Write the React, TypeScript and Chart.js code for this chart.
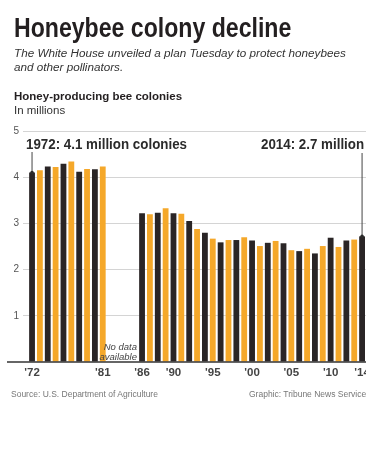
import React, { useEffect, useRef } from "react";
import { Chart, registerables } from "chart.js";

Chart.register(...registerables);

const years: number[] = [
  1972, 1973, 1974, 1975, 1976, 1977, 1978, 1979, 1980, 1981,
  1986, 1987, 1988, 1989, 1990, 1991, 1992, 1993, 1994, 1995, 1996, 1997, 1998, 1999,
  2000, 2001, 2002, 2003, 2004, 2005, 2006, 2007, 2008, 2009, 2010, 2011, 2012, 2013, 2014,
];
const colonies: number[] = [
  4.10, 4.15, 4.23, 4.22, 4.29, 4.34, 4.12, 4.18, 4.17, 4.23,
  3.22, 3.20, 3.23, 3.33, 3.22, 3.21, 3.05, 2.88, 2.80, 2.67, 2.59, 2.64, 2.64, 2.70,
  2.63, 2.51, 2.58, 2.62, 2.57, 2.42, 2.40, 2.45, 2.35, 2.51, 2.69, 2.49, 2.63, 2.65, 2.72,
];
const tickYears: number[] = [1972, 1981, 1986, 1990, 1995, 2000, 2005, 2010, 2014];
const yTicks: number[] = [0, 1, 2, 3, 4, 5];

const BLACK = "#2a2526";
const ORANGE = "#f5a82a";

const overlay = {
  id: "overlay",
  afterDatasetsDraw(chart: any) {
    const { ctx, scales } = chart;
    const x = scales.x;
    const y = scales.y;
    ctx.save();
    // baseline
    ctx.strokeStyle = "#333";
    ctx.lineWidth = 1.5;
    ctx.beginPath();
    ctx.moveTo(7, y.getPixelForValue(0));
    ctx.lineTo(chart.width, y.getPixelForValue(0));
    ctx.stroke();

    // annotations
    const first = 0;
    const last = years.length - 1;
    const ann = [
      { i: first, text: `${years[first]}: ${colonies[first].toFixed(1)} million colonies`, tx: 26, top: 152 },
      { i: last, text: `${years[last]}: ${colonies[last].toFixed(1)} million`, tx: 261, top: 153 },
    ];
    for (const a of ann) {
      ctx.save();
      ctx.font = "bold 15px 'Liberation Sans', Arial, sans-serif";
      ctx.fillStyle = "#2b2b2b";
      ctx.textBaseline = "alphabetic";
      ctx.textAlign = "left";
      ctx.translate(a.tx, 149);
      ctx.scale(0.89, 1);
      ctx.fillText(a.text, 0, 0);
      ctx.restore();
      const px = x.getPixelForValue(years[a.i]);
      const py = y.getPixelForValue(colonies[a.i]);
      ctx.strokeStyle = "#444";
      ctx.lineWidth = 1;
      ctx.beginPath();
      ctx.moveTo(px, a.top);
      ctx.lineTo(px, py);
      ctx.stroke();
      ctx.fillStyle = "#2b2b2b";
      ctx.beginPath();
      ctx.arc(px, py, 1.8, 0, Math.PI * 2);
      ctx.fill();
    }

    // no data note
    ctx.font = "italic 9.5px 'Liberation Sans', Arial, sans-serif";
    ctx.fillStyle = "#444";
    ctx.textAlign = "right";
    ctx.fillText("No data", 137, 350);
    ctx.fillText("available", 137, 360);
    ctx.restore();
  },
};

export default function App() {
  const ref = useRef<HTMLCanvasElement | null>(null);

  useEffect(() => {
    document.body.style.margin = "0";
    const canvas = ref.current;
    if (!canvas) return;
    const chart = new Chart(canvas, {
      type: "bar",
      data: {
        datasets: [
          {
            data: years.map((yr, i) => ({ x: yr, y: colonies[i] })),
            backgroundColor: years.map((yr) => (yr % 2 === 0 ? BLACK : ORANGE)),
            barPercentage: 0.74,
            categoryPercentage: 1,
          },
        ],
      },
      options: {
        animation: false,
        responsive: false,
        devicePixelRatio: 1,
        layout: { padding: { top: 131, left: 0, right: 0, bottom: 0 } },
        plugins: { legend: { display: false }, tooltip: { enabled: false }, title: { display: false } },
        scales: {
          x: {
            type: "linear",
            offset: false,
            min: 1970.85,
            max: 2014.5,
            grid: { display: false, offset: false, drawTicks: false },
            border: { display: false },
            afterBuildTicks: (scale: any) => {
              scale.ticks = tickYears.map((v) => ({ value: v }));
            },
            afterFit: (scale: any) => {
              scale.height = 107;
              scale.paddingLeft = 0;
              scale.paddingRight = 0;
            },
            ticks: {
              autoSkip: false,
              maxRotation: 0,
              padding: 4,
              color: "#444",
              font: { family: "'Liberation Sans', Arial", size: 11.5, weight: "bold" },
              callback: (v: any) => "'" + String(v).slice(2),
            },
          },
          y: {
            min: 0,
            max: 5,
            afterBuildTicks: (scale: any) => {
              scale.ticks = yTicks.map((v) => ({ value: v }));
            },
            afterFit: (scale: any) => {
              scale.width = 23;
              scale.paddingTop = 0;
              scale.paddingBottom = 0;
            },
            grid: {
              drawTicks: false,
              color: (c: any) => (c.tick && c.tick.value === 0 ? "rgba(0,0,0,0)" : "#d4d4d4"),
              lineWidth: 1,
            },
            border: { display: false },
            ticks: {
              padding: 4,
              color: "#555",
              font: { family: "'Liberation Sans', Arial", size: 10 },
              callback: (v: any) => (v === 0 ? "" : String(v)),
            },
          },
        },
      },
      plugins: [overlay],
    });
    return () => chart.destroy();
  }, []);

  const base: React.CSSProperties = { position: "absolute", margin: 0, whiteSpace: "nowrap" };

  return (
    <div style={{ position: "relative", width: 366, height: 469, overflow: "hidden", background: "#fff" }}>
      <canvas ref={ref} width={366} height={469} style={{ position: "absolute", left: 0, top: 0, width: 366, height: 469 }} />
      <div
        style={{
          ...base,
          left: 14,
          top: 14,
          fontFamily: "'Liberation Sans', Arial, sans-serif",
          fontWeight: "bold",
          fontSize: 28,
          lineHeight: "28px",
          color: "#231f20",
          transform: "scaleX(0.825)",
          transformOrigin: "0 0",
        }}
      >
        Honeybee colony decline
      </div>
      <div
        style={{
          ...base,
          left: 14,
          top: 46,
          fontFamily: "'Liberation Sans', Arial, sans-serif",
          fontStyle: "italic",
          fontSize: 11.7,
          lineHeight: "13.5px",
          color: "#333",
        }}
      >
        The White House unveiled a plan Tuesday to protect honeybees
        <br />
        and other pollinators.
      </div>
      <div
        style={{
          ...base,
          left: 14,
          top: 89,
          fontFamily: "'Liberation Sans', Arial, sans-serif",
          fontWeight: "bold",
          fontSize: 11.5,
          lineHeight: "14px",
          color: "#231f20",
        }}
      >
        Honey-producing bee colonies
      </div>
      <div
        style={{
          ...base,
          left: 14,
          top: 103,
          fontFamily: "'Liberation Sans', Arial, sans-serif",
          fontSize: 11.5,
          lineHeight: "14px",
          color: "#333",
        }}
      >
        In millions
      </div>
      <div
        style={{
          ...base,
          left: 11,
          top: 389,
          fontFamily: "'Liberation Sans', Arial, sans-serif",
          fontSize: 8.5,
          lineHeight: "10px",
          color: "#777",
        }}
      >
        Source: U.S. Department of Agriculture
      </div>
      <div
        style={{
          ...base,
          left: 249,
          top: 389,
          fontFamily: "'Liberation Sans', Arial, sans-serif",
          fontSize: 8.5,
          lineHeight: "10px",
          color: "#777",
        }}
      >
        Graphic: Tribune News Service
      </div>
    </div>
  );
}
